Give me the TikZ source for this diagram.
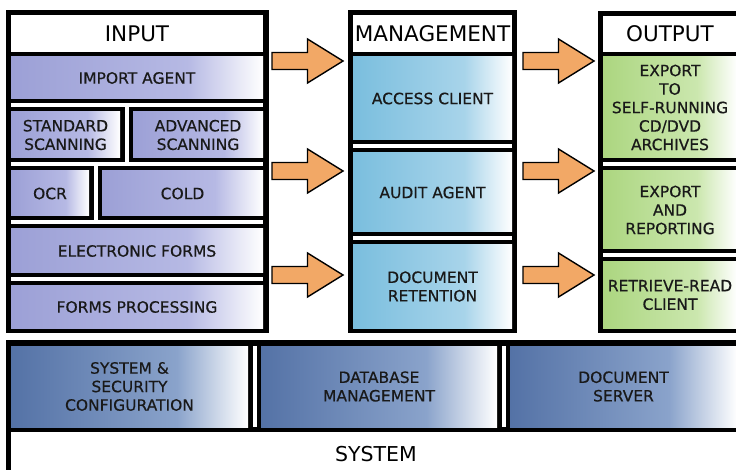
\documentclass[tikz,border=0pt]{standalone}
\usepackage{fontspec}
\setmainfont{DejaVu Sans}[BoldFont={DejaVu Sans}, BoldFeatures={FakeBold=0.5}]
\usepackage{xcolor}
\usetikzlibrary{calc}

\definecolor{inbase}{RGB}{156,160,214}
\definecolor{inmid}{RGB}{182,185,228}
\definecolor{mgbase}{RGB}{122,190,222}
\definecolor{mgmid}{RGB}{168,212,234}
\definecolor{outbase}{RGB}{172,214,128}
\definecolor{outmid}{RGB}{203,231,174}
\definecolor{sysbase}{RGB}{84,114,166}
\definecolor{sysmid}{RGB}{138,163,203}
\definecolor{arroworange}{RGB}{242,168,102}
\definecolor{labeltext}{RGB}{25,25,25}

\pgfdeclarehorizontalshading{inshade}{100bp}{color(0bp)=(inbase); color(25bp)=(inbase); color(60bp)=(inmid); color(75bp)=(white); color(100bp)=(white)}
\pgfdeclarehorizontalshading{mgshade}{100bp}{color(0bp)=(mgbase); color(25bp)=(mgbase); color(60bp)=(mgmid); color(75bp)=(white); color(100bp)=(white)}
\pgfdeclarehorizontalshading{outshade}{100bp}{color(0bp)=(outbase); color(25bp)=(outbase); color(60bp)=(outmid); color(75bp)=(white); color(100bp)=(white)}
\pgfdeclarehorizontalshading{sysshade}{100bp}{color(0bp)=(sysbase); color(25bp)=(sysbase); color(60bp)=(sysmid); color(75bp)=(white); color(100bp)=(white)}

% block arrow: start x, tip x, centre y
\newcommand{\flowarrow}[3]{%
  \draw[arrowbox] (#1,#3-8.5) -- ($(#1,#3-8.5)!0.5!(#2,#3-8.5)$) |- ++(0,-13.5)
    -- (#2,#3) -- ($(#1,#3+22)!0.5!(#2,#3+22)$) -- ++(0,-13.5) -- (#1,#3+8.5) -- cycle;}

\begin{document}
\begin{tikzpicture}[x=1pt, y=-1pt,
		font=\fontsize{15.5}{18.5}\selectfont\bfseries,
		cell/.style={inner sep=0pt, align=center, text=labeltext},
		title/.style={cell, fill=white, text=black, font=\fontsize{21.5}{24}\selectfont},
		incell/.style={cell, shading=inshade},
		mgcell/.style={cell, shading=mgshade},
		outcell/.style={cell, shading=outshade},
		syscell/.style={cell, shading=sysshade},
		gap/.style={fill=white},
		arrowbox/.style={draw=black, line width=1.4pt, fill=arroworange, line join=miter}]
	\useasboundingbox (0,0) rectangle (736,470);
	\clip (0,0) rectangle (736,470);

	% input column
	\fill (6,10) rectangle (269,333);
	\node[title, minimum width=252pt, minimum height=37pt] (input) at (137,33.5) {INPUT};
	\node[incell, minimum width=252pt, minimum height=42pt] (import) at (137,78) {IMPORT AGENT};
	\node[incell, minimum width=109pt, minimum height=46pt] (stdscan) at (65.5,135) {STANDARD\\SCANNING};
	\node[incell, minimum width=130pt, minimum height=46pt] (advscan) at (198,135) {ADVANCED\\SCANNING};
	\node[incell, minimum width=78pt, minimum height=45pt] (ocr) at (50,193.5) {OCR};
	\node[incell, minimum width=161pt, minimum height=45pt] (cold) at (182.5,193.5) {COLD};
	\node[incell, minimum width=252pt, minimum height=44pt] (eforms) at (137,251) {ELECTRONIC FORMS};
	\node[incell, minimum width=252pt, minimum height=42pt] (fproc) at (137,307) {FORMS PROCESSING};
	\foreach \gy in {103.5,162.5,220.5,277.5}
		\fill[gap] (11,\gy) rectangle (263,\gy+4);
	\fill[gap] (124.5,103.5) rectangle (128.5,166.5);
	\fill[gap] (93.5,162.5) rectangle (97.5,224.5);

	% management column
	\fill (348,10) rectangle (517,333);
	\node[title, minimum width=159pt, minimum height=37pt] (manage) at (432.5,33.5) {MANAGEMENT};
	\node[mgcell, minimum width=159pt, minimum height=83pt] (access) at (432.5,98.5) {ACCESS CLIENT};
	\node[mgcell, minimum width=159pt, minimum height=79pt] (audit) at (432.5,192.5) {AUDIT AGENT};
	\node[mgcell, minimum width=159pt, minimum height=83pt] (retain) at (432.5,286.5) {DOCUMENT\\RETENTION};
	\foreach \gy in {144.5,236.5}
		\fill[gap] (353,\gy) rectangle (512,\gy+4);

	% output column
	\fill (598,11) rectangle (742,333);
	\node[title, minimum width=134pt, minimum height=36pt] (output) at (670,34) {OUTPUT};
	\node[outcell, minimum width=134pt, minimum height=101pt] (cdexport) at (670,107.5) {EXPORT\\TO\\SELF-RUNNING\\CD/DVD\\ARCHIVES};
	\node[outcell, minimum width=134pt, minimum height=78pt] (report) at (670,210) {EXPORT\\AND\\REPORTING};
	\node[outcell, minimum width=134pt, minimum height=66pt] (retrieve) at (670,295) {RETRIEVE-READ\\CLIENT};
	\foreach \gy in {162.5,253.5}
		\fill[gap] (603,\gy) rectangle (737,\gy+4);

	% system row
	\fill (6,340) rectangle (742,475);
	\node[syscell, minimum width=237pt, minimum height=81pt] (security) at (129.5,386.5) {SYSTEM \&\\SECURITY\\CONFIGURATION};
	\node[syscell, minimum width=236pt, minimum height=81pt] (database) at (379,386.5) {DATABASE\\MANAGEMENT};
	\node[syscell, minimum width=227pt, minimum height=81pt] (docserver) at (623.5,386.5) {DOCUMENT\\SERVER};
	\foreach \gx in {252.5,501.5}
		\fill[gap] (\gx,346) rectangle (\gx+4,427);
	\fill[gap] (11,432) rectangle (742,475);
	\node[cell, text=black, font=\fontsize{20.5}{24}\selectfont] (system) at (376,454) {SYSTEM};

	% arrows between the columns
	\foreach \ay in {61,171,275} {
		\flowarrow{272}{343}{\ay}
		\flowarrow{523}{594}{\ay}
	}
\end{tikzpicture}
\end{document}
